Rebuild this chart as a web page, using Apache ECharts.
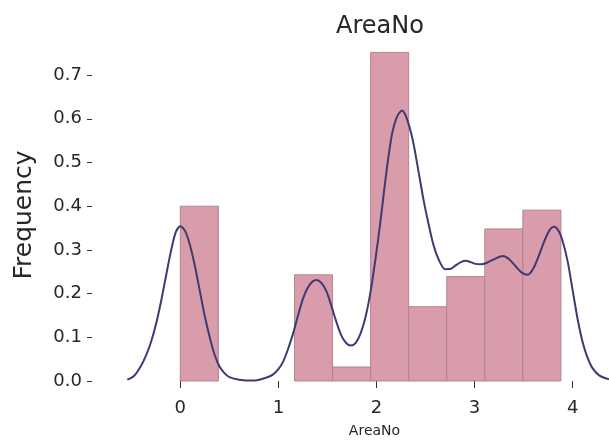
<!DOCTYPE html>
<html>
<head>
<meta charset="utf-8">
<script src="https://cdn.jsdelivr.net/npm/echarts@6/dist/echarts.min.js"></script>
<style>
  html, body { margin: 0; padding: 0; background: #ffffff; }
  #chart { width: 609px; height: 444px; }
</style>
</head>
<body>
<div id="chart"></div>
<script>
// Histogram bins of AreaNo (density-normalised)
const binEdges = [0.000, 0.388, 0.776, 1.164, 1.552, 1.940, 2.328, 2.716, 3.104, 3.492, 3.880];
const binDensity = [0.400, 0.000, 0.000, 0.243, 0.032, 0.752, 0.170, 0.239, 0.348, 0.391];

// Kernel density estimate curve: x positions and densities
const kdeX = [-0.54, -0.47, -0.40, -0.35, -0.30, -0.25, -0.20, -0.15, -0.10, -0.05, 0.00, 0.05, 0.10, 0.15, 0.20, 0.25, 0.30, 0.35, 0.40, 0.45, 0.50, 0.60, 0.75, 0.88, 0.94, 1.00, 1.05, 1.10, 1.15, 1.20, 1.25, 1.30, 1.35, 1.39, 1.44, 1.49, 1.54, 1.59, 1.64, 1.69, 1.74, 1.79, 1.84, 1.89, 1.94, 1.99, 2.04, 2.08, 2.12, 2.16, 2.21, 2.26, 2.31, 2.37, 2.42, 2.48, 2.53, 2.58, 2.64, 2.70, 2.76, 2.81, 2.86, 2.91, 2.96, 3.01, 3.06, 3.12, 3.20, 3.29, 3.35, 3.42, 3.48, 3.54, 3.60, 3.66, 3.72, 3.77, 3.81, 3.86, 3.90, 3.95, 4.00, 4.05, 4.10, 4.15, 4.20, 4.27, 4.37];
const kdeY = [0.003, 0.012, 0.035, 0.058, 0.088, 0.128, 0.178, 0.235, 0.292, 0.338, 0.354, 0.343, 0.310, 0.262, 0.205, 0.148, 0.100, 0.060, 0.033, 0.018, 0.009, 0.003, 0.001, 0.008, 0.014, 0.027, 0.045, 0.074, 0.109, 0.150, 0.188, 0.214, 0.228, 0.231, 0.224, 0.205, 0.172, 0.136, 0.105, 0.087, 0.081, 0.088, 0.110, 0.148, 0.205, 0.280, 0.365, 0.440, 0.510, 0.567, 0.605, 0.619, 0.600, 0.551, 0.490, 0.414, 0.360, 0.312, 0.275, 0.256, 0.257, 0.265, 0.272, 0.275, 0.272, 0.268, 0.267, 0.270, 0.279, 0.286, 0.279, 0.262, 0.248, 0.243, 0.258, 0.290, 0.325, 0.347, 0.353, 0.342, 0.318, 0.272, 0.207, 0.142, 0.090, 0.054, 0.030, 0.013, 0.004];

// Axis tick labels
const xTicks = [0, 1, 2, 3, 4];
const yTicks = [0.0, 0.1, 0.2, 0.3, 0.4, 0.5, 0.6, 0.7];

// Empty bins leave no visible bar
const histData = binDensity
  .map((d, i) => [binEdges[i], binEdges[i + 1], d])
  .filter(b => b[2] > 0);
const kdeData = kdeX.map((x, i) => [x, kdeY[i]]);

const FONT = 'DejaVu Sans';
const TEXT = '#262626';

const chart = echarts.init(document.getElementById('chart'), null, { renderer: 'canvas' });
chart.setOption({
  animation: false,
  backgroundColor: '#ffffff',
  title: {
    text: 'AreaNo',
    left: 375,
    top: 10,
    textAlign: 'center',
    textStyle: { fontFamily: FONT, fontSize: 24, fontWeight: 'normal', color: TEXT }
  },
  grid: { left: 92, right: 0, top: 48.9, bottom: 63, containLabel: false },
  xAxis: {
    type: 'value',
    min: -0.9,
    max: 4.37,
    name: 'AreaNo',
    nameLocation: 'middle',
    nameGap: 43,
    // the axes box runs past the right edge, so its centred label sits right of the visible middle
    nameTextStyle: { fontFamily: FONT, fontSize: 14, color: TEXT, padding: [0, 0, 0, 48] },
    axisLine: { show: false, onZero: false },
    splitLine: { show: false },
    axisTick: { show: true, length: 7, customValues: xTicks, lineStyle: { color: '#333333', width: 1 } },
    axisLabel: { customValues: xTicks, margin: 18, fontFamily: FONT, fontSize: 18, color: TEXT,
      formatter: v => String(v) }
  },
  yAxis: {
    type: 'value',
    min: 0,
    max: 0.76,
    name: 'Frequency',
    nameLocation: 'middle',
    nameGap: 55,
    nameRotate: 90,
    nameTextStyle: { fontFamily: FONT, fontSize: 25, color: TEXT },
    axisLine: { show: false, onZero: false },
    splitLine: { show: false },
    axisTick: { show: true, length: 5, customValues: yTicks, lineStyle: { color: '#333333', width: 1 } },
    axisLabel: { customValues: yTicks, margin: 10, fontFamily: FONT, fontSize: 18, color: TEXT,
      formatter: v => v.toFixed(1) }
  },
  series: [
    {
      type: 'custom',
      name: 'histogram',
      data: histData,
      encode: { x: [0, 1], y: 2 },
      renderItem: function (params, api) {
        const p0 = api.coord([api.value(0), 0]);
        const p1 = api.coord([api.value(1), api.value(2)]);
        return {
          type: 'rect',
          shape: { x: p0[0], y: p1[1], width: p1[0] - p0[0], height: p0[1] - p1[1] },
          style: { fill: '#d99cab', stroke: '#b3838f', lineWidth: 1 }
        };
      },
      z: 1
    },
    {
      type: 'line',
      name: 'kde',
      data: kdeData,
      smooth: 0.3,
      showSymbol: false,
      lineStyle: { color: '#3d3b72', width: 2 },
      z: 3
    }
  ]
});
</script>
</body>
</html>
